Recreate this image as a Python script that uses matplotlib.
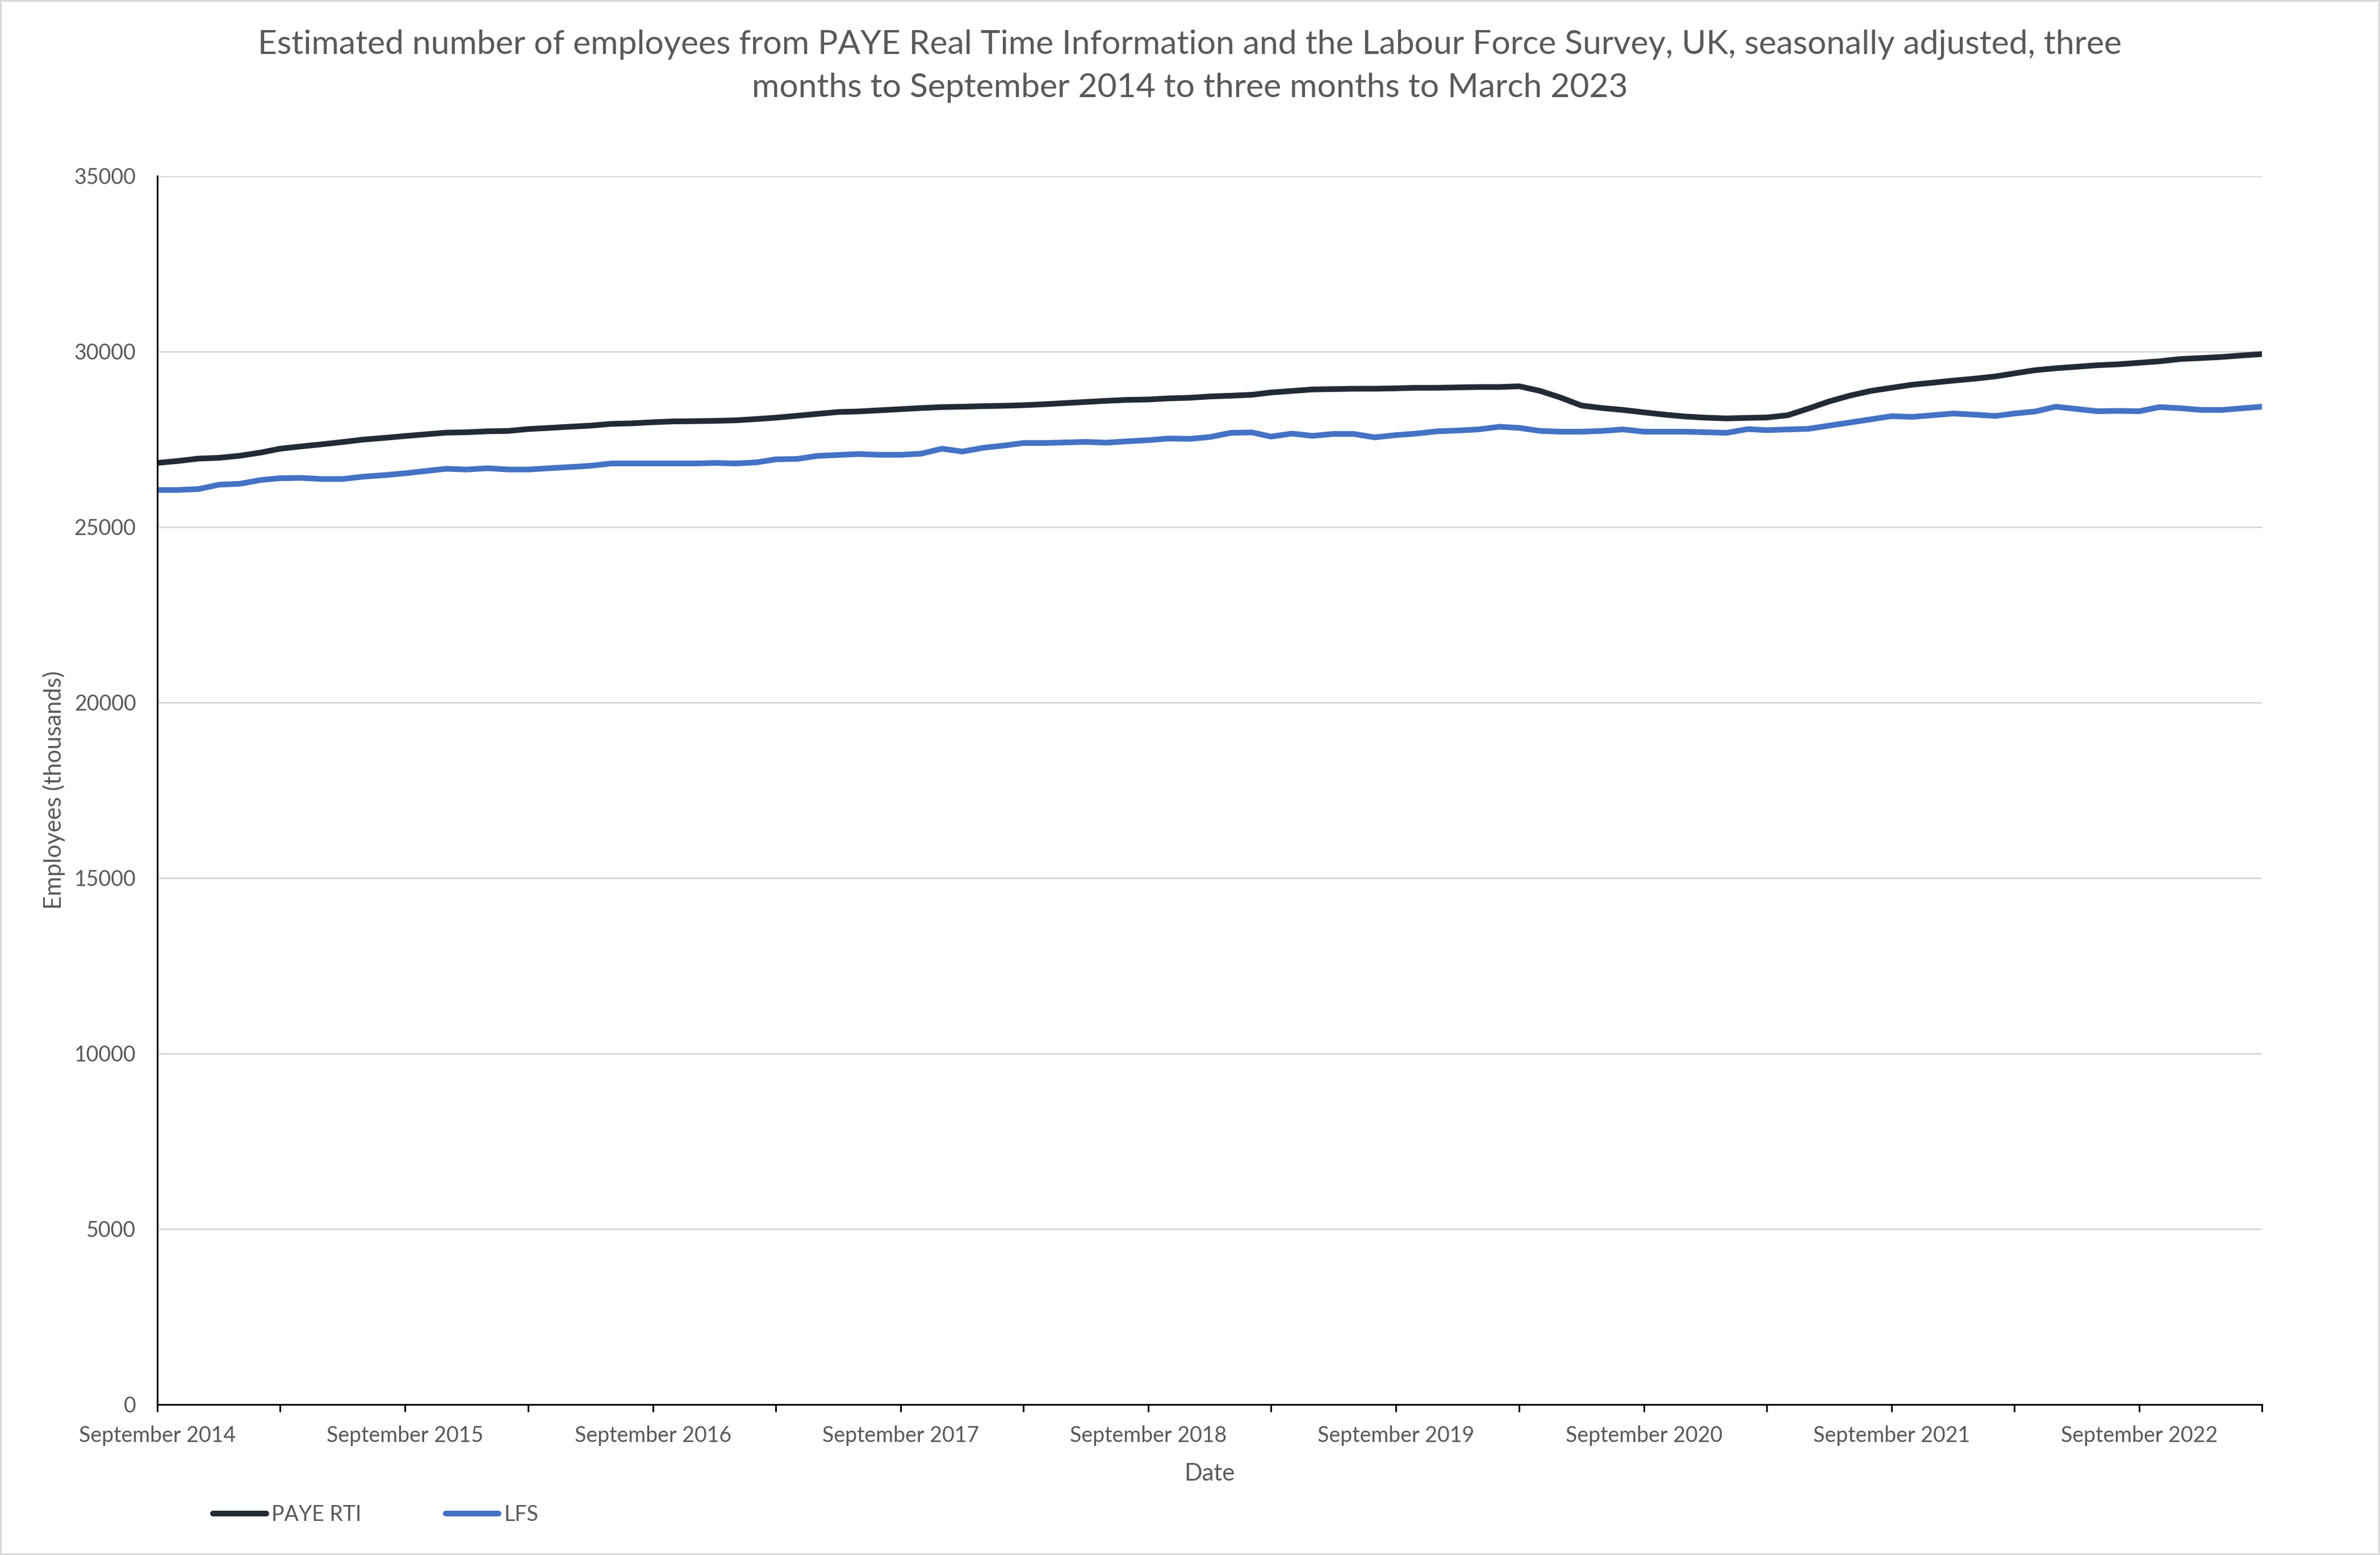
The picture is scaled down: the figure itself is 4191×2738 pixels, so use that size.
import numpy as np
import pandas as pd
import matplotlib as mpl
mpl.use('Agg')
import matplotlib.pyplot as plt
from matplotlib.patches import Rectangle

# monthly, three months to Sep 2014 .. three months to Mar 2023
dates = pd.date_range('2014-09-01', periods=103, freq='MS')

paye_rti = [26827, 26880, 26950, 26972, 27032, 27123, 27231, 27296, 27355, 27420,
            27490, 27538, 27592, 27640, 27689, 27700, 27727, 27738, 27792, 27824,
            27857, 27889, 27938, 27954, 27986, 28008, 28015, 28024, 28040, 28077,
            28115, 28169, 28223, 28277, 28293, 28326, 28358, 28390, 28417, 28428,
            28444, 28455, 28471, 28498, 28531, 28563, 28595, 28622, 28633, 28665,
            28682, 28719, 28741, 28768, 28833, 28876, 28919, 28930, 28940, 28940,
            28951, 28967, 28967, 28978, 28989, 28989, 29010, 28876, 28687, 28460,
            28390, 28336, 28266, 28202, 28148, 28115, 28094, 28110, 28120, 28185,
            28374, 28579, 28741, 28876, 28967, 29054, 29113, 29172, 29226, 29291,
            29377, 29469, 29523, 29566, 29609, 29636, 29679, 29722, 29787, 29814,
            29846, 29890, 29927]

lfs = [26055, 26055, 26082, 26206, 26233, 26341, 26390, 26400, 26368, 26368,
       26433, 26476, 26530, 26594, 26659, 26638, 26675, 26638, 26638, 26675,
       26708, 26745, 26810, 26810, 26810, 26810, 26810, 26826, 26810, 26843,
       26929, 26940, 27026, 27053, 27080, 27058, 27058, 27090, 27231, 27150,
       27258, 27322, 27393, 27393, 27409, 27425, 27403, 27441, 27474, 27522,
       27511, 27565, 27684, 27695, 27576, 27662, 27598, 27652, 27652, 27555,
       27619, 27662, 27727, 27749, 27781, 27856, 27824, 27738, 27716, 27716,
       27738, 27781, 27716, 27716, 27716, 27700, 27684, 27790, 27760, 27781,
       27797, 27889, 27975, 28067, 28158, 28137, 28185, 28234, 28202, 28164,
       28234, 28293, 28428, 28363, 28299, 28309, 28299, 28417, 28385, 28336,
       28336, 28385, 28428]

yticks = [0, 5000, 10000, 15000, 20000, 25000, 30000, 35000]

title = ('Estimated number of employees from PAYE Real Time Information and the Labour Force Survey, UK, seasonally adjusted, three\n'
         'months to September 2014 to three months to March 2023')

txt = '#595959'
plt.rcParams['font.family'] = ['Lato', 'DejaVu Sans']

fig = plt.figure(figsize=(4191 / 300, 2738 / 300), dpi=300)
ax = fig.add_axes([0.0661, 0.0968, 0.8843, 0.79])

ax.plot(dates, paye_rti, color='#222a35', lw=2.4, label='PAYE RTI', solid_capstyle='round')
ax.plot(dates, lfs, color='#4472c4', lw=2.4, label='LFS', solid_capstyle='round')

ax.set_ylim(0, 35000)
ax.set_xlim(dates[0], dates[-1])
ax.set_yticks(yticks)
ax.set_yticklabels([str(v) for v in yticks])
ax.yaxis.grid(True, color='#d9d9d9', lw=0.7)
ax.set_axisbelow(True)

xt = dates[::6]
ax.set_xticks(xt)
ax.set_xticklabels([d.strftime('%B %Y') if d.month == 9 else '' for d in xt])

for s in ['top', 'right']:
    ax.spines[s].set_visible(False)
for s in ['left', 'bottom']:
    ax.spines[s].set_linewidth(0.7)
    ax.spines[s].set_color('black')
ax.tick_params(axis='y', length=0, pad=9, labelsize=9, labelcolor=txt)
ax.tick_params(axis='x', length=3, width=0.7, pad=6, labelsize=9, labelcolor=txt)

ax.set_xlabel('Date', fontsize=10, color=txt, labelpad=7)
fig.text(0.0227, 0.5 * (0.0968 + 0.8868), 'Employees (thousands)', rotation=90,
         ha='center', va='center', fontsize=10, color=txt)

fig.text(0.5, 0.9575, title, ha='center', va='center', fontsize=14.1, color=txt,
         linespacing=1.55)

fig.legend(loc='center left', bbox_to_anchor=(0.0895, 1 - 2667 / 2738), ncol=2,
           frameon=False, fontsize=9, labelcolor=txt, handlelength=2.5,
           handletextpad=0.25, columnspacing=3.95, borderpad=0, borderaxespad=0)

fig.add_artist(Rectangle((0, 0), 1, 1, transform=fig.transFigure, fill=False,
                         edgecolor='#d9d9d9', lw=1.5))

fig.savefig('out.png', dpi=300)
